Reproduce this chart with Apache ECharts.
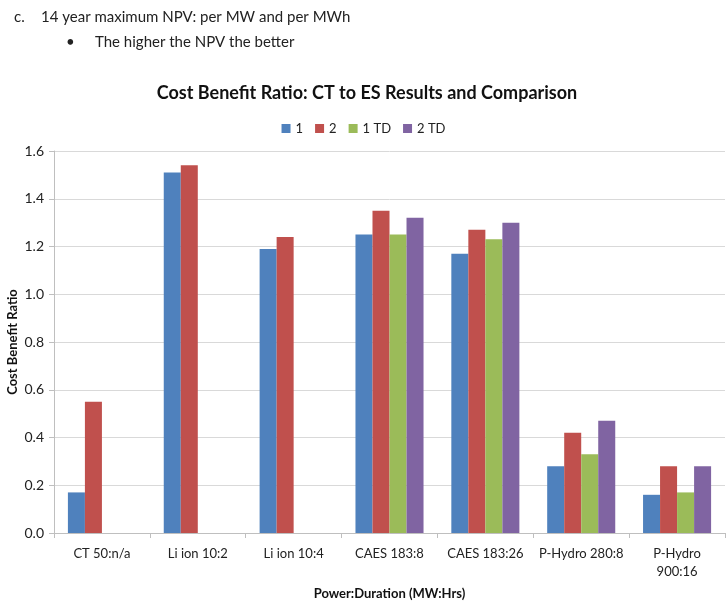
<!DOCTYPE html>
<html>
<head>
<meta charset="utf-8">
<script src="https://cdn.jsdelivr.net/npm/echarts@6/dist/echarts.min.js"></script>
<style>
  html, body { margin: 0; padding: 0; background: #fff; }
  #main { width: 727px; height: 602px; }
</style>
</head>
<body>
<div id="main"></div>
<script>
var categories = ['CT 50:n/a', 'Li ion 10:2', 'Li ion 10:4', 'CAES 183:8', 'CAES 183:26', 'P-Hydro 280:8', 'P-Hydro\n900:16'];
var seriesNames = ['1', '2', '1 TD', '2 TD'];
var s1 = [0.17, 1.51, 1.19, 1.25, 1.17, 0.28, 0.16];
var s2 = [0.55, 1.54, 1.24, 1.35, 1.27, 0.42, 0.28];
var s1td = [null, null, null, 1.25, 1.23, 0.33, 0.17];
var s2td = [null, null, null, 1.32, 1.30, 0.47, 0.28];
var colors = ['#4F81BD', '#C0504D', '#9BBB59', '#8064A2'];

var font = 'Lato, "Open Sans", sans-serif';

function bar(name, data, color) {
    return {
        name: name,
        type: 'bar',
        data: data,
        barGap: '0%',
        barCategoryGap: '29%',
        itemStyle: { color: color }
    };
}

function note(x, y, txt) {
    return { type: 'text', x: x, y: y, style: { text: txt, font: '15px ' + font, fill: '#222', textVerticalAlign: 'middle' } };
}

var myChart = echarts.init(document.getElementById('main'));
myChart.setOption({
    animation: false,
    textStyle: { fontFamily: font },
    graphic: [
        note(14, 17, 'c.'),
        note(41, 17, '14 year maximum NPV: per MW and per MWh'),
        note(66, 42, '\u2022'),
        note(95, 42, 'The higher the NPV the better')
    ],
    title: {
        text: 'Cost Benefit Ratio: CT to ES Results and Comparison',
        left: 362,
        textAlign: 'center',
        top: 79,
        textStyle: { fontFamily: font, fontSize: 18, fontWeight: 'bold', color: '#111' }
    },
    legend: {
        data: seriesNames,
        top: 117,
        left: 'center',
        itemWidth: 9,
        itemHeight: 9,
        itemGap: 12,
        icon: 'rect',
        textStyle: { fontFamily: font, fontSize: 13, color: '#222' }
    },
    grid: { left: 54, right: 2, top: 151, bottom: 69, outerBoundsMode: 'none' },
    xAxis: {
        type: 'category',
        data: categories,
        name: 'Power:Duration (MW:Hrs)',
        nameLocation: 'middle',
        nameGap: 54,
        nameMoveOverlap: false,
        nameTextStyle: { fontFamily: font, fontSize: 13, fontWeight: 'bold', color: '#111' },
        axisLine: { lineStyle: { color: '#bfbfbf' } },
        axisTick: { show: true, length: 5, lineStyle: { color: '#bfbfbf' } },
        axisLabel: { fontFamily: font, fontSize: 13, color: '#222', margin: 12, interval: 0, lineHeight: 18 }
    },
    yAxis: {
        type: 'value',
        min: 0,
        max: 1.6,
        interval: 0.2,
        name: 'Cost Benefit Ratio',
        nameLocation: 'middle',
        nameGap: 35,
        nameMoveOverlap: false,
        nameTextStyle: { fontFamily: font, fontSize: 13, fontWeight: 'bold', color: '#111' },
        axisLine: { show: true, lineStyle: { color: '#bfbfbf' } },
        axisTick: { show: true, length: 5, lineStyle: { color: '#bfbfbf' } },
        axisLabel: { fontFamily: font, fontSize: 14, color: '#222', margin: 10, formatter: function (v) { return v.toFixed(1); } },
        splitLine: { lineStyle: { color: '#d9d9d9' } }
    },
    series: [
        bar(seriesNames[0], s1, colors[0]),
        bar(seriesNames[1], s2, colors[1]),
        bar(seriesNames[2], s1td, colors[2]),
        bar(seriesNames[3], s2td, colors[3])
    ]
});
</script>
</body>
</html>
